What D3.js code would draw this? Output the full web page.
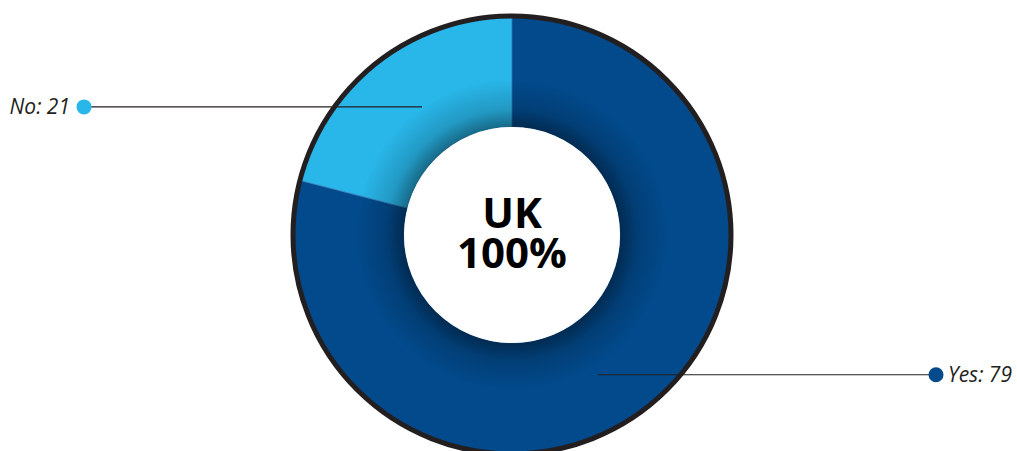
<!DOCTYPE html>
<html>
<head>
<meta charset="utf-8">
<script src="https://cdn.jsdelivr.net/npm/d3@7"></script>
<style>
  html, body { margin: 0; padding: 0; background: #ffffff; }
  svg { display: block; }
</style>
</head>
<body>
<svg id="chart" width="1017" height="451"></svg>
<script>
// ---- data ----
const categories = ["No", "Yes"];
const values = [21, 79];
const colors = ["#29B6E9", "#024A8C"];
const centerLines = ["UK", "100%"];
// leader anchor (fraction of slice angle, radius) and label side
const anchorFrac = [0.536, 0.522];
const labelSide = ["left", "right"];

const W = 1017, H = 451;
const cx = 512, cy = 235;
const outerR = 219, innerR = 108;

const svg = d3.select("#chart");
const defs = svg.append("defs");

const grad = defs.append("radialGradient")
  .attr("id", "hole-shadow")
  .attr("gradientUnits", "userSpaceOnUse")
  .attr("cx", 0).attr("cy", 0).attr("r", outerR);
grad.append("stop").attr("offset", innerR / outerR).attr("stop-color", "#000").attr("stop-opacity", 0.42);
grad.append("stop").attr("offset", (innerR + 18) / outerR).attr("stop-color", "#000").attr("stop-opacity", 0.16);
grad.append("stop").attr("offset", (innerR + 48) / outerR).attr("stop-color", "#000").attr("stop-opacity", 0);
grad.append("stop").attr("offset", 1).attr("stop-color", "#000").attr("stop-opacity", 0);

const data = categories.map((c, i) => ({ cat: c, value: values[i], color: colors[i], i }));

// "No" goes counter-clockwise from top; "Yes" fills the rest
const total = d3.sum(values);
const angle = d3.scaleLinear().domain([0, total]).range([0, 2 * Math.PI]);
const noSpan = angle(values[0]);
const slices = [
  { ...data[0], startAngle: -noSpan, endAngle: 0 },
  { ...data[1], startAngle: 0, endAngle: angle(values[1]) }
];

const g = svg.append("g").attr("transform", `translate(${cx},${cy})`);
const arc = d3.arc().innerRadius(innerR).outerRadius(outerR);

g.selectAll("path.slice").data(slices).join("path")
  .attr("class", "slice")
  .attr("d", arc)
  .attr("fill", d => d.color)
  .attr("stroke", "#3a7fbf")
  .attr("stroke-width", 0.6);

// inner shadow on ring
g.append("path")
  .attr("d", arc({ startAngle: 0, endAngle: 2 * Math.PI }))
  .attr("fill", "url(#hole-shadow)");

// outer border
g.append("circle").attr("r", outerR).attr("fill", "none")
  .attr("stroke", "#231F20").attr("stroke-width", 5);

// hole
g.append("circle").attr("r", innerR).attr("fill", "#ffffff");

// center text
centerLines.forEach((t, i) => {
  g.append("text")
    .attr("x", 0)
    .attr("y", -7 + i * 40)
    .attr("text-anchor", "middle")
    .attr("font-family", "'Open Sans', 'Noto Sans', sans-serif")
    .attr("font-weight", 700)
    .attr("font-size", 42)
    .attr("fill", "#000")
    .text(t);
});

// leaders and labels
const leaderR = [156.5, 164];
const dotX = [84, 936];
slices.forEach((d, i) => {
  const a = d.startAngle + anchorFrac[i] * (d.endAngle - d.startAngle);
  const ax = Math.sin(a) * leaderR[i];
  const ay = -Math.cos(a) * leaderR[i];
  const dx = dotX[i] - cx;
  g.append("line")
    .attr("x1", ax).attr("y1", ay)
    .attr("x2", dx).attr("y2", ay)
    .attr("stroke", "#231F20").attr("stroke-width", 1.2);
  g.append("circle")
    .attr("cx", dx).attr("cy", ay).attr("r", 7.5)
    .attr("fill", d.color);
  g.append("text")
    .attr("x", labelSide[i] === "left" ? dx - 14 : dx + 12)
    .attr("y", ay + 7.5)
    .attr("text-anchor", labelSide[i] === "left" ? "end" : "start")
    .attr("font-family", "'Open Sans', 'Noto Sans', sans-serif")
    .attr("font-style", "italic")
    .attr("font-size", 21)
    .attr("fill", "#231F20")
    .text(`${d.cat}: ${d.value}`);
});
</script>
</body>
</html>
